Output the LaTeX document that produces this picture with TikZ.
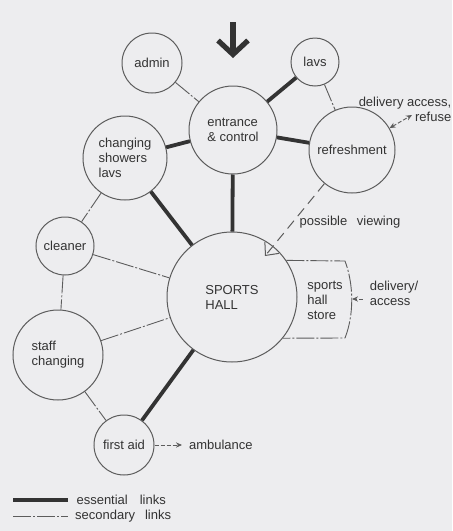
\documentclass[tikz,border=0pt]{standalone}
\usepackage{fontspec}
\setmainfont{Liberation Sans}
\usepackage{tikz}
\usetikzlibrary{arrows.meta, positioning, calc}
\definecolor{PaperGrey}{HTML}{EDEDEF}
\definecolor{Ink}{HTML}{333333}
\definecolor{Pencil}{HTML}{5C5C5C}

\begin{document}
\begin{tikzpicture}[x=0.5pt, y=-0.5pt,
    font=\fontsize{6.5}{7.5}\selectfont, text=Ink,
    room/.style={circle, draw=Pencil, line width=0.5pt, inner sep=0pt, align=left},
    essential/.style={color=Ink, line width=1.9pt},
    secondary/.style={color=Pencil, line width=0.45pt, dash pattern=on 9pt off 1pt on 1pt off 1pt},
    feed/.style={->, >={Stealth[length=3pt, width=2.6pt]}, color=Pencil, line width=0.45pt, dash pattern=on 2pt off 1pt}]
    % Page
    \fill[PaperGrey] (0,0) rectangle (452,531);
    \useasboundingbox (0,0) rectangle (452,531);

    % Rooms
    \node[room, minimum size=44pt] (entrance) at (233,130) {entrance\\\& control};
    \node[room, minimum size=30pt] (admin) at (152,63) {admin};
    \node[room, minimum size=24pt] (lavs) at (315,62) {lavs};
    \node[room, minimum size=43pt] (refresh) at (352,150) {refreshment};
    \node[room, minimum size=42pt] (changing) at (125,158) {changing\\showers\\lavs};
    \node[room, minimum size=29pt] (cleaner) at (65,246) {cleaner};
    \node[room, minimum size=65pt] (hall) at (232,297) {SPORTS\\HALL};
    \node[room, minimum size=45pt] (staff) at (58,355) {staff\\changing};
    \node[room, minimum size=30pt] (firstaid) at (124,445) {first aid};

    % Store against the hall
    \draw[secondary] (hall.34) -- (345,261) .. controls (354,285) and (354,315) .. (345,338) -- (hall.-39);
    \node[align=left] (store) at (325,300) {sports\\hall\\store};

    % Entry arrow
    \coordinate (door) at (233,22);
    \draw[Ink, line width=2.6pt, -{Straight Barb[length=7pt, width=15pt]}] (door) -- ++(0,36);

    % Essential links
    \draw[essential] (entrance) -- (lavs);
    \draw[essential] (entrance) -- (refresh);
    \draw[essential] (entrance) -- (changing);
    \draw[essential] (entrance) -- (hall);
    \draw[essential] (changing) -- (hall);
    \draw[essential] (firstaid) -- (hall);

    % Secondary links
    \draw[secondary] (admin) -- (entrance);
    \draw[secondary] (lavs) -- (refresh);
    \draw[secondary] (changing) -- (cleaner);
    \draw[secondary] (cleaner) -- (hall);
    \draw[secondary] (cleaner) -- (staff);
    \draw[secondary] (staff) -- (hall);
    \draw[secondary] (staff) -- (firstaid);

    % Outside access
    \node[align=right] (refuse) at (405,109) {delivery access,\\refuse};
    \coordinate (refuseend) at (412,115);
    \draw[feed, <->] (refresh) -- (refuseend);
    \node[align=left] (deliv) at (394,293) {delivery/\\access};
    \coordinate (storeedge) at (352,299);
    \draw[feed] (deliv.west |- storeedge) -- (storeedge);
    \node[anchor=west] (ambulance) at (182,445) {ambulance};
    \draw[feed] (firstaid) -- (ambulance);

    % Viewing
    \node (viewing) at (350,222) {possible\hspace{3pt} viewing};
    \coordinate (view) at (265,256);
    \draw[Pencil, line width=0.5pt, dash pattern=on 5pt off 3pt, -{Straight Barb[length=5pt, width=9pt]}] (refresh) -- (view);

    % Key
    \coordinate (keyess) at (13,500);
    \coordinate (keysec) at (13,516);
    \draw[essential] (keyess) -- ++(55,0) node[right] {essential\hspace{6pt}links};
    \draw[secondary] (keysec) -- ++(55,0) node[right, text=Ink] {secondary\hspace{5pt}links};
\end{tikzpicture}
\end{document}
